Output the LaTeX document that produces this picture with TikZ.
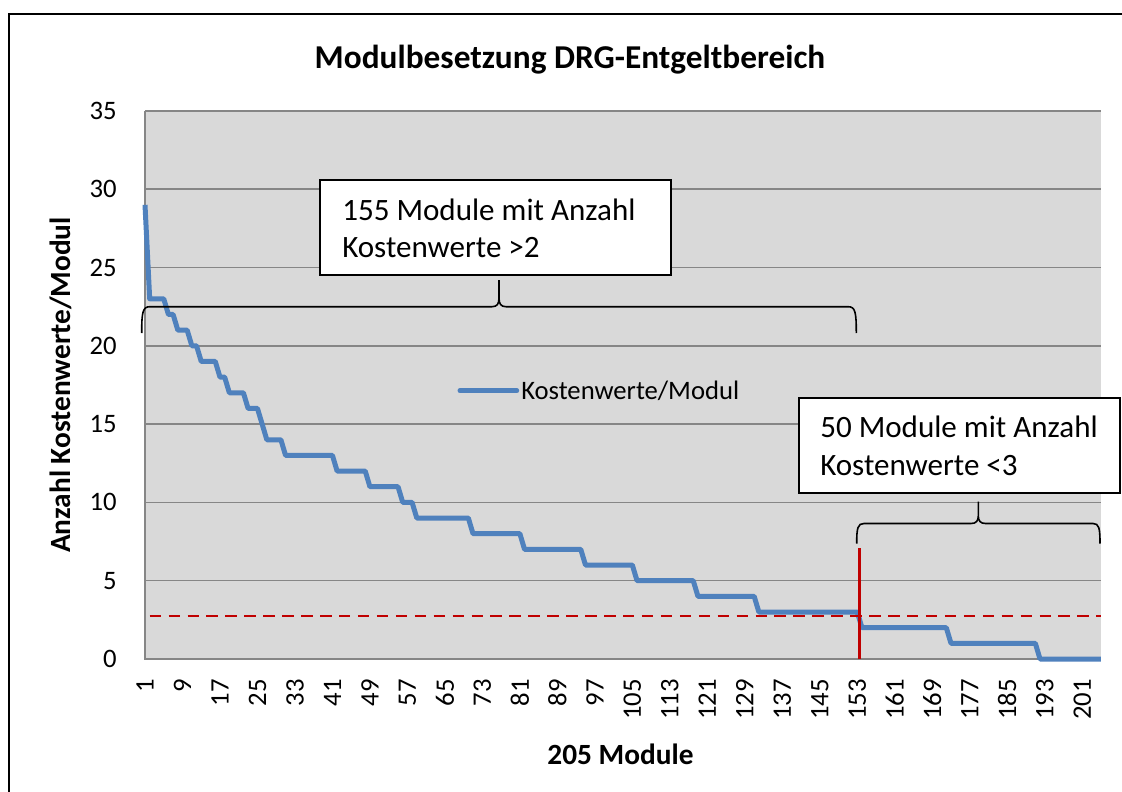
\documentclass[tikz,border=0pt]{standalone}
\usepackage{fontspec}
\setmainfont{Carlito}
\definecolor{plotbg}{HTML}{D9D9D9}
\definecolor{gridgray}{HTML}{868686}
\definecolor{seriesblue}{HTML}{4F81BD}
\definecolor{markred}{HTML}{C00000}
\tikzset{
  chartframe/.style={draw=black,line width=1.5pt},
  gridline/.style={draw=gridgray,line width=1.1pt},
  serie/.style={draw=seriesblue,line width=3.75pt,line join=round},
  threshold/.style={draw=markred,line width=1.6pt,dash pattern=on 8.6pt off 5.6pt},
  cutline/.style={draw=markred,line width=2.2pt},
  bracepath/.style={draw=black,line width=1.2pt},
  infobox/.style={draw=black,fill=white,line width=1.5pt,inner sep=0pt},
  boxtext/.style={inner sep=0pt,font=\fontsize{23.3}{28}\selectfont},
  yticklabel/.style={inner sep=0pt,anchor=east,font=\fontsize{20}{24}\selectfont},
  xticklabel/.style={inner sep=0pt,anchor=east,rotate=90,font=\fontsize{20}{24}\selectfont},
  legendtext/.style={inner sep=0pt,font=\fontsize{20}{24}\selectfont},
  axistitle/.style={inner sep=0pt,font=\fontsize{22}{26}\selectfont\bfseries},
  charttitle/.style={inner sep=0pt,font=\fontsize{25}{30}\selectfont\bfseries}
}
\begin{document}
\begin{tikzpicture}[x=0.75pt,y=-0.75pt]
\useasboundingbox (0,0) rectangle (1122,792);
\clip (0,0) rectangle (1122,792);
\fill[white] (0,0) rectangle (1122,792);
\draw[chartframe] (9.2,14.5) rectangle (1140,810);

\node[charttitle,anchor=base] (title) at (570,68.3) {Modulbesetzung DRG-Entgeltbereich};

\fill[plotbg] (145,111) rectangle (1101,659);
\begin{scope}[shift={(140.314,659)},x=3.5145pt,y=11.745pt]
    \foreach \v in {5,10,...,35}
        \draw[gridline] (1,\v) -- (205,\v);
    \draw[gridline] (1,35) -- (1,0) -- (205,0);
    \draw[serie] plot coordinates {(1,29) (2,23) (5,23) (6,22) (7,22) (8,21) (10,21) (11,20) (12,20)
        (13,19) (16,19) (17,18) (18,18) (19,17) (22,17) (23,16) (25,16) (26,15) (27,14) (30,14)
        (31,13) (41,13) (42,12) (48,12) (49,11) (55,11) (56,10) (58,10) (59,9) (70,9) (71,8) (81,8)
        (82,7) (94,7) (95,6) (105,6) (106,5) (118,5) (119,4) (131,4) (132,3) (153,3) (154,2) (172,2)
        (173,1) (191,1) (192,0) (205,0)};
    \draw[threshold] (2,2.77) -- (205,2.77);
    \draw[cutline] (153.4,0) -- (153.4,7.07);
\end{scope}

\foreach \v in {0,5,...,35}
    \node[yticklabel] (yt\v) at (117,{659-15.66*\v}) {\v};
\foreach \c in {1,9,...,201}
    \node[xticklabel] (xt\c) at ({145+4.686*(\c-1)},679) {\c};

\coordinate (legA) at (460,390.7);
\coordinate (legB) at (516.7,390.7);
\draw[serie,line cap=round] (legA) -- (legB);
\node[legendtext,anchor=base west] (legtext) at (521,399) {Kostenwerte/Modul};

\draw[bracepath] (141.7,333) .. controls (141.7,312) and (142.7,306.7) .. (150,306.7) -- (492,306.7)
    .. controls (497,306.7) and (499,304) .. (499,298) -- (499,280) -- (499,298)
    .. controls (499,304) and (501,306.7) .. (506,306.7) -- (848,306.7)
    .. controls (855.3,306.7) and (856.3,312) .. (856.3,333);
\draw[bracepath] (856.7,543.5) .. controls (856.7,528) and (857.7,523.5) .. (864,523.5) -- (971,523.5)
    .. controls (976,523.5) and (978.3,521) .. (978.3,516) -- (978.3,501.7) -- (978.3,516)
    .. controls (978.3,521) and (980.6,523.5) .. (985.6,523.5) -- (1093,523.5)
    .. controls (1099,523.5) and (1100,528) .. (1100,543.5);

\node[infobox,minimum width=263.25pt,minimum height=71.25pt] (boxHigh) at (495.5,227.5) {};
\node[boxtext,anchor=base west] (boxHighA) at (342,220) {155 Module mit Anzahl};
\node[boxtext,anchor=base west] (boxHighB) at (342,257) {Kostenwerte >2};
\node[infobox,minimum width=240.75pt,minimum height=71.25pt] (boxLow) at (959.5,445.75) {};
\node[boxtext,anchor=base west] (boxLowA) at (820,437) {50 Module mit Anzahl};
\node[boxtext,anchor=base west] (boxLowB) at (820,475) {Kostenwerte <3};

\node[axistitle,rotate=90,anchor=base] (ytitle) at (70,385) {Anzahl Kostenwerte/Modul};
\node[axistitle,anchor=base] (xtitle) at (620.5,764) {205 Module};
\end{tikzpicture}
\end{document}
